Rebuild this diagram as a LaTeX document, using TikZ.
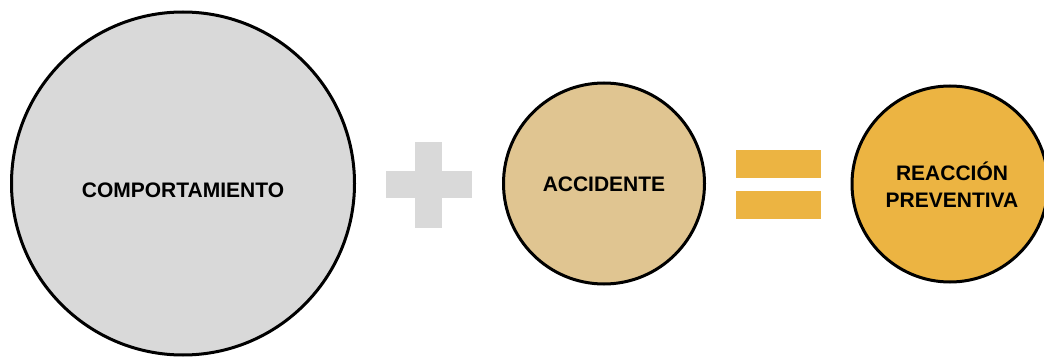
\documentclass[tikz,border=0pt]{standalone}
\usepackage{fontspec}
\setmainfont{Liberation Sans}
\definecolor{Grey}{HTML}{d9d9d9}
\definecolor{Sand}{HTML}{e0c591}
\definecolor{Gold}{HTML}{ecb442}
\begin{document}
\begin{tikzpicture}[x=1pt,y=-1pt,
  bubble/.style={circle,draw=black,line width=3pt,inner sep=0pt},
  word/.style={font=\bfseries\fontsize{21}{27}\selectfont,align=center,inner sep=0pt}]

\useasboundingbox (0,0) rectangle (1044,358);

\node[bubble,fill=Grey,minimum size=343pt] (comp) at (183,183.5) {};
\node[word] (compt) at (183,190) {COMPORTAMIENTO};

\fill[Grey] (415,142) rectangle (442,228);
\fill[Grey] (386,171) rectangle (472,198);

\node[bubble,fill=Sand,minimum size=201pt] (acc) at (604,183.5) {};
\node[word] (acct) at (604,184.5) {ACCIDENTE};

\fill[Gold] (736,150) rectangle (821,178);
\fill[Gold] (736,191) rectangle (821,219);

\node[bubble,fill=Gold,minimum size=196pt] (reac) at (950,184) {};
\node[word] (react) at (952,185) {REACCIÓN\\PREVENTIVA};

\end{tikzpicture}
\end{document}
